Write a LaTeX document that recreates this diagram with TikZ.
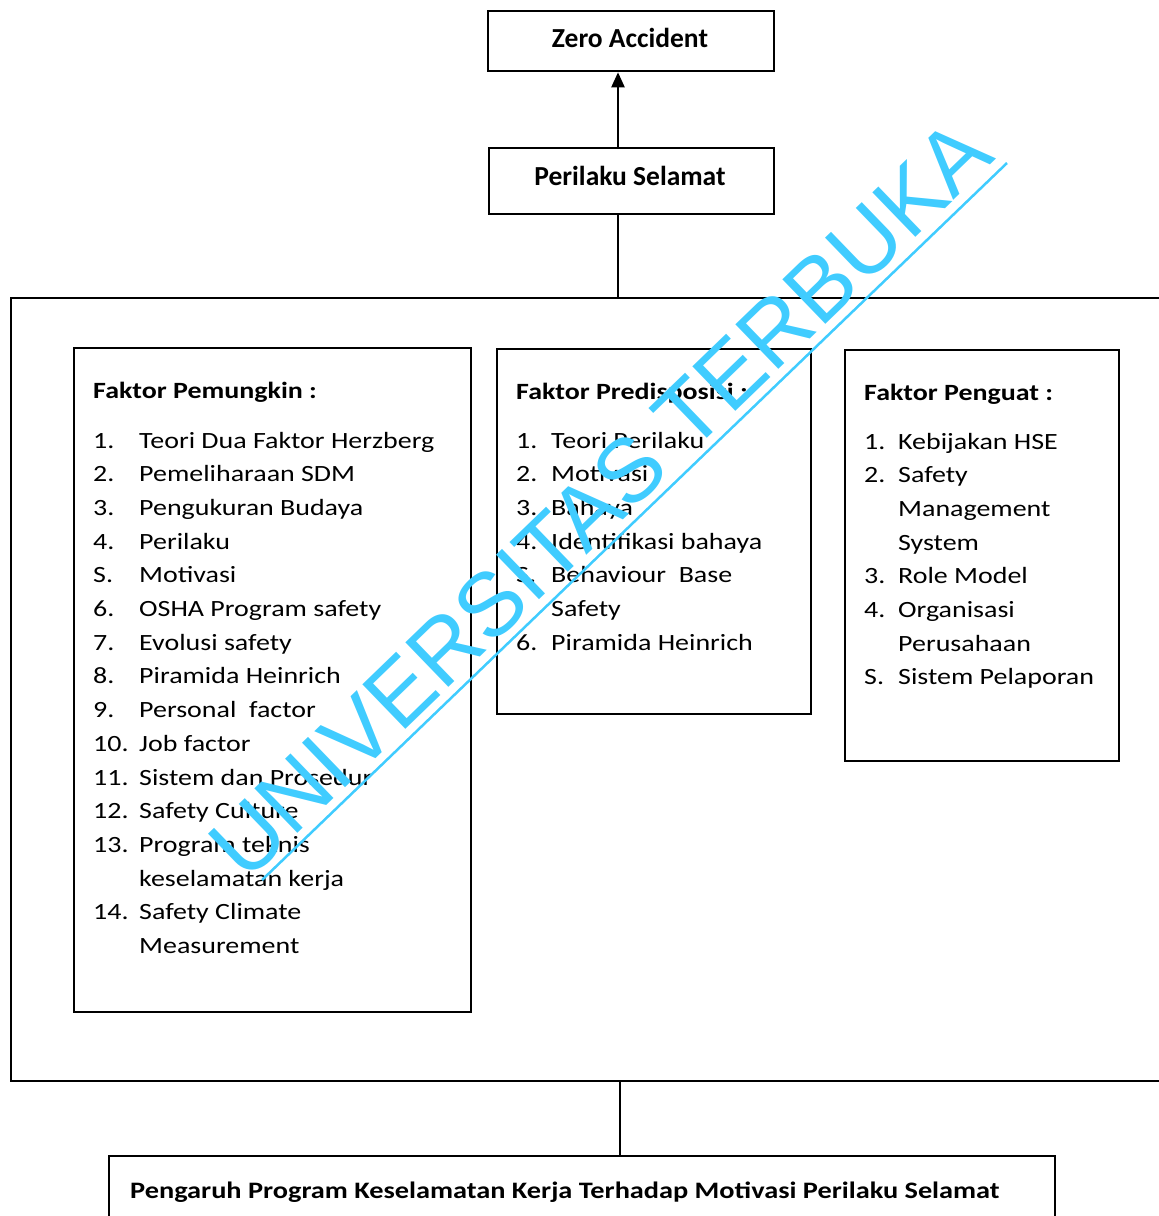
\documentclass[tikz,border=0pt]{standalone}
\usepackage{fontspec}
\usepackage{array}
\setmainfont{Carlito}
\newfontfamily\widefont{Carlito}[FakeStretch=1.2]
\newfontfamily\wmfont{Liberation Sans}
\usetikzlibrary{arrows.meta}
\definecolor{wmblue}{RGB}{64,204,255}

\begin{document}
\begin{tikzpicture}[x=1pt,y=-1pt,
  frame/.style={draw=black, line width=2.3pt, inner sep=0pt, anchor=north west},
  headlabel/.style={inner sep=0pt, font=\fontsize{27.5}{33}\selectfont\bfseries},
  title/.style={anchor=base west, inner sep=0pt, font=\widefont\fontsize{23.3}{33.7}\selectfont\bfseries},
  listtext/.style={anchor=base west, inner sep=0pt, font=\widefont\fontsize{23.3}{33.7}\selectfont},
  link/.style={draw=black, line width=2.3pt},
  arrowlink/.style={link, -{Triangle[length=15pt,width=13pt]}},
  wmtext/.style={text=wmblue, font=\wmfont\fontsize{90}{90}\selectfont, inner sep=0pt}
]
\useasboundingbox (0,0) rectangle (1159,1216);

% top chain
\node[frame, minimum width=286pt, minimum height=60pt] (zero) at (487,10) {};
\node[headlabel] (zerolabel) at (630,38) {Zero Accident};
\node[frame, minimum width=285pt, minimum height=66pt] (safe) at (488,147) {};
\node[headlabel] (safelabel) at (630,176) {Perilaku Selamat};

% enclosing frame (open on the right) and the three factor boxes
\node[frame, minimum width=1200pt, minimum height=783pt] (outer) at (10,297) {};
\node[frame, minimum width=397pt, minimum height=664pt] (left) at (73,347) {};
\node[frame, minimum width=314pt, minimum height=365pt] (mid) at (496,348) {};
\node[frame, minimum width=274pt, minimum height=411pt] (right) at (844,349) {};

% bottom box
\node[frame, minimum width=946pt, minimum height=120pt] (result) at (108,1155) {};
\node[anchor=base west, inner sep=0pt, font=\widefont\fontsize{23.6}{30}\selectfont\bfseries] (resulttext) at (130,1198)
  {Pengaruh Program Keselamatan Kerja Terhadap Motivasi Perilaku Selamat};

% connectors
\coordinate (ax) at (618,0);
\coordinate (bx) at (620,0);
\draw[arrowlink] (ax |- safe.north) -- (ax |- zero.south);
\draw[link] (ax |- safe.south) -- (ax |- outer.north);
\draw[link] (bx |- outer.south) -- (bx |- result.north);

% Faktor Pemungkin
\node[title] (t1) at (93,398) {Faktor Pemungkin :};
\node[listtext] (l1) at (93,448) {\begin{tabular}[t]{@{}w{l}{46pt}@{}l@{}}
1. & Teori Dua Faktor Herzberg\\
2. & Pemeliharaan SDM\\
3. & Pengukuran Budaya\\
4. & Perilaku\\
S. & Motivasi\\
6. & OSHA Program safety\\
7. & Evolusi safety\\
8. & Piramida Heinrich\\
9. & Personal\ \ factor\\
10. & Job factor\\
11. & Sistem dan Prosedur\\
12. & Safety Culture\\
13. & Program teknis\\
 & keselamatan kerja\\
14. & Safety Climate\\
 & Measurement
\end{tabular}};

% Faktor Predisposisi
\node[title] (t2) at (516,399) {Faktor Predisposisi :};
\node[listtext] (l2) at (516,448) {\begin{tabular}[t]{@{}w{l}{35pt}@{}l@{}}
1. & Teori Perilaku\\
2. & Motivasi\\
3. & Bahaya\\
4. & Identifikasi bahaya\\
S. & Behaviour\ \ Base\\
 & Safety\\
6. & Piramida Heinrich
\end{tabular}};

% Faktor Penguat
\node[title] (t3) at (864,400) {Faktor Penguat :};
\node[listtext] (l3) at (864,449) {\begin{tabular}[t]{@{}w{l}{34pt}@{}l@{}}
1. & Kebijakan HSE\\
2. & Safety\\
 & Management\\
 & System\\
3. & Role Model\\
4. & Organisasi\\
 & Perusahaan\\
S. & Sistem Pelaporan
\end{tabular}};

% watermark
\node[wmtext, anchor=base west, rotate=44] (wm) at (246,884) {UNIVERSITAS TERBUKA};
\draw[wmblue, line width=2.5pt] (262,880) -- (1007,163);
\end{tikzpicture}
\end{document}
